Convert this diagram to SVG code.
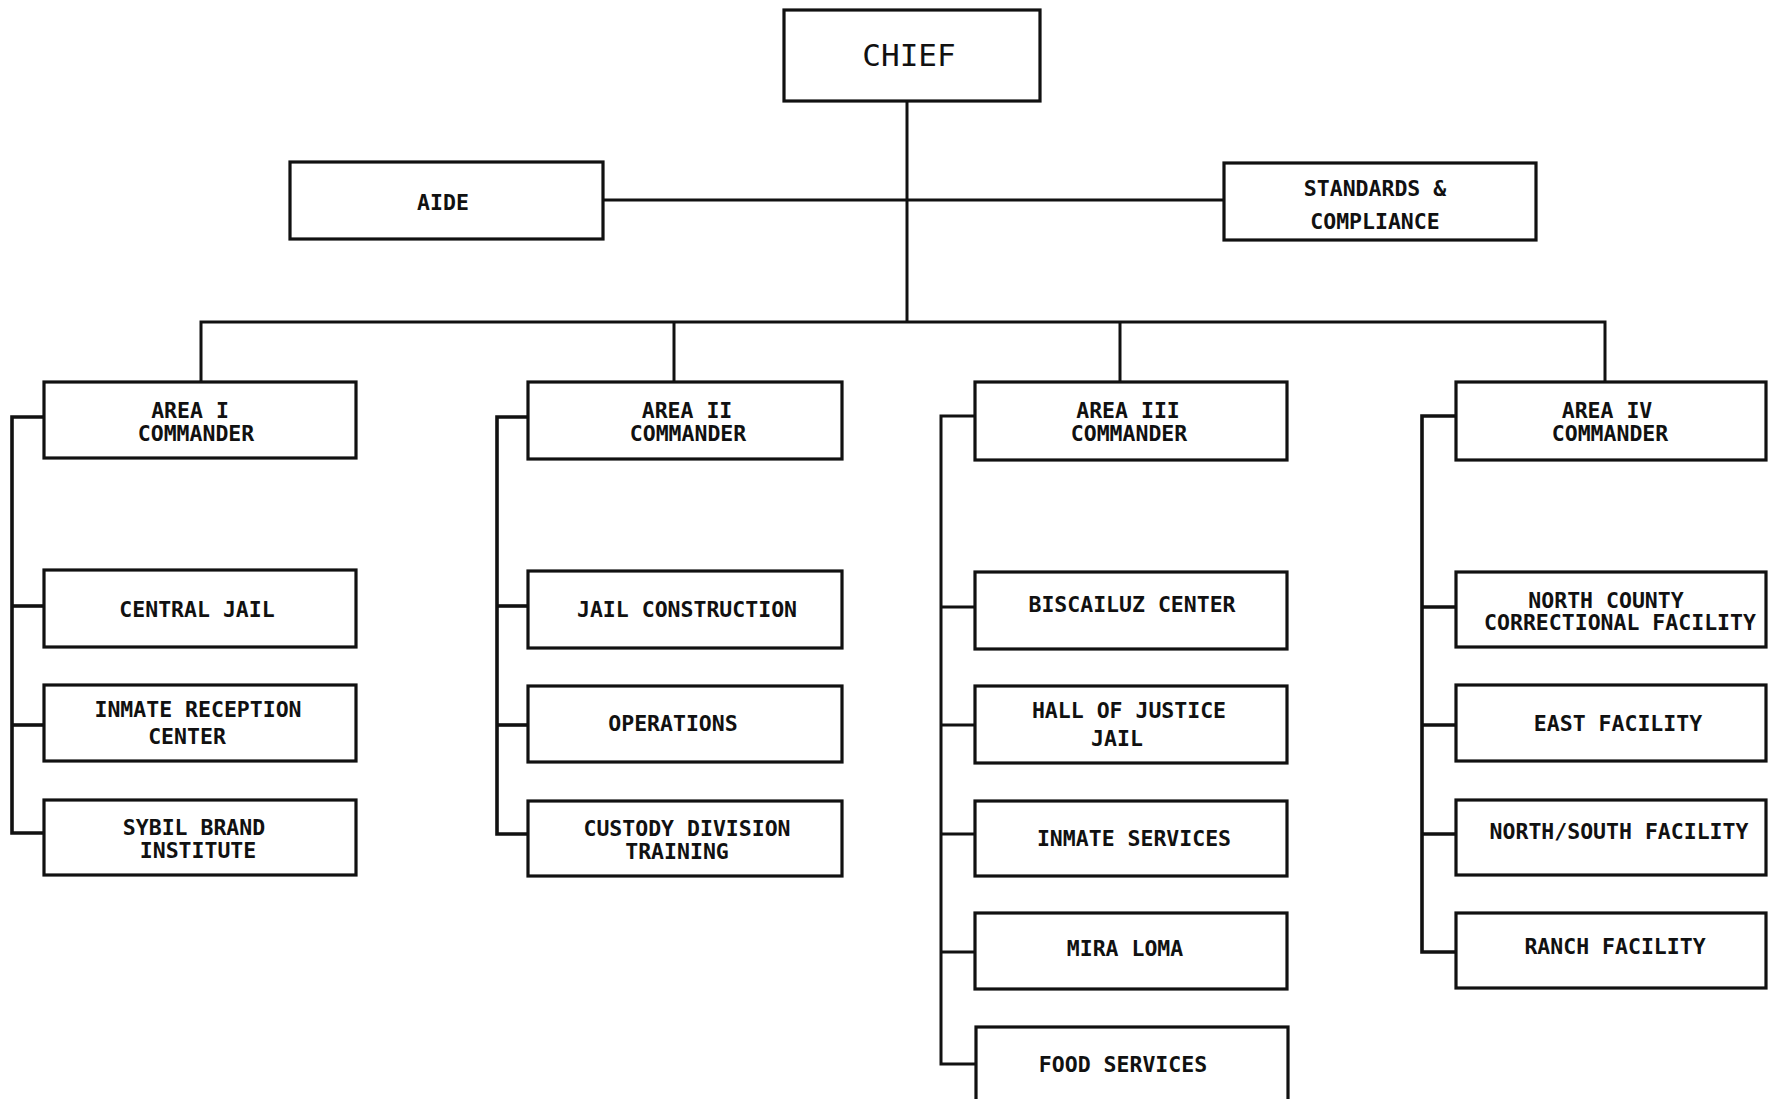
<svg xmlns="http://www.w3.org/2000/svg" width="1771" height="1099" viewBox="0 0 1771 1099">
<style>
.box{fill:#fff;stroke:#111;stroke-width:3.2}
.t{font-family:"DejaVu Sans Mono","Liberation Mono",monospace;font-weight:bold;font-size:21.5px;fill:#111;text-anchor:middle}
.tc{font-family:"DejaVu Sans Mono","Liberation Mono",monospace;font-weight:normal;font-size:31px;fill:#111;text-anchor:middle}
.ln{fill:none;stroke:#111;stroke-width:3}
.br{fill:none;stroke:#111;stroke-width:3.6}
</style>
<rect x="0" y="0" width="1771" height="1099" fill="#fff"/>
<g id="connectors">
<line class="ln" x1="907" y1="101" x2="907" y2="322"/>
<line class="ln" x1="602" y1="200" x2="1225" y2="200"/>
<polyline class="ln" points="201,381 201,322 1605,322 1605,381"/>
<line class="ln" x1="674" y1="322" x2="674" y2="381"/>
<line class="ln" x1="1120" y1="322" x2="1120" y2="381"/>
<polyline class="br" points="44,417 12,417 12,833 44,833"/>
<line class="br" x1="12" y1="606" x2="44" y2="606"/>
<line class="br" x1="12" y1="725" x2="44" y2="725"/>
<polyline class="br" points="528,417 497,417 497,834 528,834"/>
<line class="br" x1="497" y1="606" x2="528" y2="606"/>
<line class="br" x1="497" y1="725" x2="528" y2="725"/>
<polyline class="ln" points="975,416 941,416 941,1064 975,1064"/>
<line class="ln" x1="941" y1="607" x2="975" y2="607"/>
<line class="ln" x1="941" y1="725" x2="975" y2="725"/>
<line class="ln" x1="941" y1="834" x2="975" y2="834"/>
<line class="ln" x1="941" y1="952" x2="975" y2="952"/>
<polyline class="br" points="1456,416 1422,416 1422,952 1456,952"/>
<line class="br" x1="1422" y1="607" x2="1456" y2="607"/>
<line class="br" x1="1422" y1="725" x2="1456" y2="725"/>
<line class="br" x1="1422" y1="834" x2="1456" y2="834"/>
</g>
<g id="chief"><rect class="box" x="784" y="10" width="256" height="91"/><text class="tc" x="909" y="66">CHIEF</text></g>
<g id="aide"><rect class="box" x="290" y="162" width="313" height="77"/><text class="t" x="443" y="210">AIDE</text></g>
<g id="standards"><rect class="box" x="1224" y="163" width="312" height="77"/><text class="t" x="1375" y="196">STANDARDS &amp;</text><text class="t" x="1375" y="229">COMPLIANCE</text></g>
<g id="area1"><rect class="box" x="44" y="382" width="312" height="76"/><text class="t" x="190" y="418">AREA I</text><text class="t" x="196" y="441">COMMANDER</text></g>
<g id="area2"><rect class="box" x="528" y="382" width="314" height="77"/><text class="t" x="687" y="418">AREA II</text><text class="t" x="688" y="441">COMMANDER</text></g>
<g id="area3"><rect class="box" x="975" y="382" width="312" height="78"/><text class="t" x="1128" y="418">AREA III</text><text class="t" x="1129" y="441">COMMANDER</text></g>
<g id="area4"><rect class="box" x="1456" y="382" width="310" height="78"/><text class="t" x="1607" y="418">AREA IV</text><text class="t" x="1610" y="441">COMMANDER</text></g>
<g id="central-jail"><rect class="box" x="44" y="570" width="312" height="77"/><text class="t" x="197" y="617">CENTRAL JAIL</text></g>
<g id="inmate-reception"><rect class="box" x="44" y="685" width="312" height="76"/><text class="t" x="198" y="717">INMATE RECEPTION</text><text class="t" x="187" y="744">CENTER</text></g>
<g id="sybil-brand"><rect class="box" x="44" y="800" width="312" height="75"/><text class="t" x="194" y="835">SYBIL BRAND</text><text class="t" x="198" y="858">INSTITUTE</text></g>
<g id="jail-construction"><rect class="box" x="528" y="571" width="314" height="77"/><text class="t" x="687" y="617">JAIL CONSTRUCTION</text></g>
<g id="operations"><rect class="box" x="528" y="686" width="314" height="76"/><text class="t" x="673" y="731">OPERATIONS</text></g>
<g id="custody-training"><rect class="box" x="528" y="801" width="314" height="75"/><text class="t" x="687" y="836">CUSTODY DIVISION</text><text class="t" x="677" y="859">TRAINING</text></g>
<g id="biscailuz"><rect class="box" x="975" y="572" width="312" height="77"/><text class="t" x="1132" y="612">BISCAILUZ CENTER</text></g>
<g id="hall-of-justice"><rect class="box" x="975" y="686" width="312" height="77"/><text class="t" x="1129" y="718">HALL OF JUSTICE</text><text class="t" x="1117" y="746">JAIL</text></g>
<g id="inmate-services"><rect class="box" x="975" y="801" width="312" height="75"/><text class="t" x="1134" y="846">INMATE SERVICES</text></g>
<g id="mira-loma"><rect class="box" x="975" y="913" width="312" height="76"/><text class="t" x="1125" y="956">MIRA LOMA</text></g>
<g id="food-services"><rect class="box" x="976" y="1027" width="312" height="90"/><text class="t" x="1123" y="1072">FOOD SERVICES</text></g>
<g id="north-county"><rect class="box" x="1456" y="572" width="310" height="75"/><text class="t" x="1606" y="608">NORTH COUNTY</text><text class="t" x="1620" y="630">CORRECTIONAL FACILITY</text></g>
<g id="east-facility"><rect class="box" x="1456" y="685" width="310" height="76"/><text class="t" x="1618" y="731">EAST FACILITY</text></g>
<g id="north-south"><rect class="box" x="1456" y="800" width="310" height="75"/><text class="t" x="1619" y="839">NORTH/SOUTH FACILITY</text></g>
<g id="ranch-facility"><rect class="box" x="1456" y="913" width="310" height="75"/><text class="t" x="1615" y="954">RANCH FACILITY</text></g>
</svg>
